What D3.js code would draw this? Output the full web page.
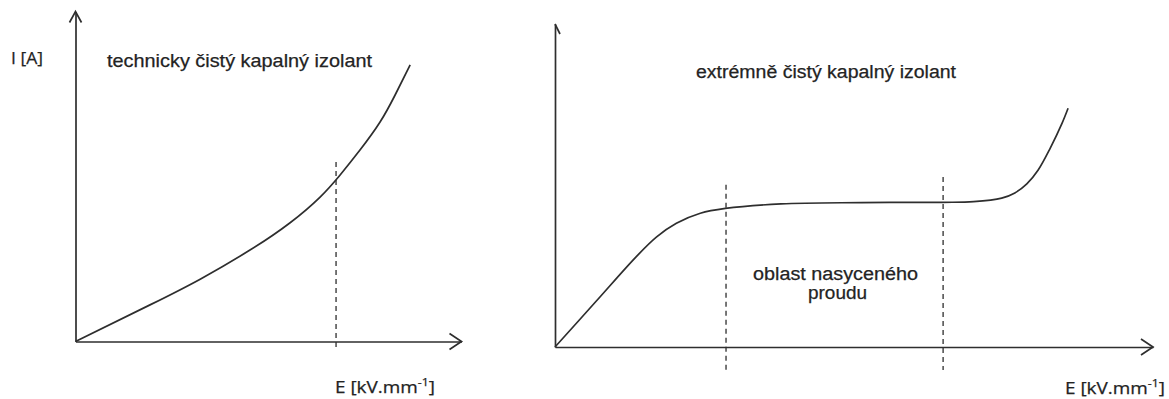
<!DOCTYPE html>
<html>
<head>
<meta charset="utf-8">
<script src="https://cdn.jsdelivr.net/npm/d3@7/dist/d3.min.js"></script>
<style>
  html, body { margin: 0; padding: 0; background: #fff; }
  svg { display: block; }
  text { fill: #232323; stroke: #232323; stroke-width: 0.25px; }
</style>
</head>
<body>
<svg id="chart" width="1169" height="399"></svg>
<script>
// Volt-ampere characteristic of a technically pure liquid insulator
const leftE = [0, 19.3, 32.3, 45.2, 55.6, 63.3, 68.5, 73.7, 78.9, 82.8, 86.7];
const leftI = [0, 11.1, 18.9, 27.7, 36.0, 43.7, 50.4, 58.0, 66.5, 74.7, 83.8];
const leftMarkE = [67.5];

// Volt-ampere characteristic of an extremely pure liquid insulator
const rightE = [0, 6.8, 13.6, 17.0, 20.3, 24.3, 28.5, 37.8, 51.2, 64.8, 70.0, 74.7, 76.9, 78.9, 80.8, 82.8, 84.8, 85.8];
const rightI = [0, 14.0, 28.0, 34.1, 38.3, 41.4, 42.9, 44.3, 44.7, 44.8, 45.0, 46.1, 47.7, 50.5, 54.8, 61.5, 69.3, 73.9];
const rightMarkE = [28.6, 64.9];
const rightMarkTop = [50.2, 52.6];

// Texts
const titles = ["technicky čistý kapalný izolant", "extrémně čistý kapalný izolant"];
const yLabel = "I [A]";
const xLabel = ["E [kV.mm", "-1", "]"];
const regionLabel = ["oblast nasyceného", "proudu"];

const svg = d3.select("#chart");
const ink = "#2e2e2e";

function drawPanel(cfg) {
  const g = svg.append("g");
  const x = d3.scaleLinear().domain([0, 100]).range(cfg.xRange);
  const y = d3.scaleLinear().domain([0, 100]).range(cfg.yRange);

  // axes without ticks
  g.append("g")
    .attr("transform", `translate(0,${y(0)})`)
    .call(d3.axisBottom(x).tickValues([]).tickSizeOuter(0));
  g.append("g")
    .attr("transform", `translate(${x(0)},0)`)
    .call(d3.axisLeft(y).tickValues([]).tickSizeOuter(0));
  g.selectAll(".domain").attr("stroke", ink).attr("stroke-width", 1.7);

  // arrow heads
  const xt = x(100), yt = y(0);
  g.append("path")
    .attr("d", `M${xt - 12},${yt - 8}L${xt},${yt}L${xt - 12},${yt + 8}`)
    .attr("fill", "none").attr("stroke", ink).attr("stroke-width", 1.7);
  const ux = x(0), uy = y(100);
  const yArrow = cfg.yArrowBoth
    ? `M${ux - 6},${uy + 11}L${ux},${uy}L${ux + 6},${uy + 11}`
    : `M${ux},${uy}L${ux + 5},${uy + 10}`;
  g.append("path").attr("d", yArrow)
    .attr("fill", "none").attr("stroke", ink).attr("stroke-width", 1.7);

  // dashed markers
  cfg.marks.forEach((e, i) => {
    g.append("line")
      .attr("x1", x(e)).attr("x2", x(e))
      .attr("y1", y(cfg.markTop[i])).attr("y2", y(cfg.markBottom))
      .attr("stroke", ink).attr("stroke-width", 1.3)
      .attr("stroke-dasharray", "5,4");
  });

  // characteristic curve
  const pts = cfg.E.map((e, i) => [e, cfg.I[i]]);
  g.append("path")
    .datum(pts)
    .attr("d", d3.line().x(d => x(d[0])).y(d => y(d[1])).curve(cfg.curve))
    .attr("fill", "none").attr("stroke", ink).attr("stroke-width", 1.7);

  return g;
}

const left = drawPanel({
  xRange: [75.5, 461.5], yRange: [341.5, 11.5],
  E: leftE, I: leftI, marks: leftMarkE, markTop: [54.4], markBottom: -2.6,
  yArrowBoth: true, curve: d3.curveNatural
});
const right = drawPanel({
  xRange: [555, 1153], yRange: [347, 24],
  E: rightE, I: rightI, marks: rightMarkE, markTop: rightMarkTop, markBottom: -7.1,
  yArrowBoth: false, curve: d3.curveCatmullRom.alpha(0.5)
});

function label(g, txt, xPos, yPos, len, size, family) {
  return g.append("text")
    .attr("x", xPos).attr("y", yPos)
    .attr("font-family", family).attr("font-size", size)
    .attr("textLength", len).attr("lengthAdjust", "spacingAndGlyphs")
    .text(txt);
}

const sans = "'Liberation Sans', Arial, sans-serif";
const soft = "'Open Sans', 'Liberation Sans', sans-serif";

label(left, titles[0], 107, 67, 265, 19, sans);
label(right, titles[1], 696, 78, 260, 18, sans);
label(right, regionLabel[0], 753, 280, 165, 18, sans);
label(right, regionLabel[1], 808, 299, 59, 18, sans);
label(left, yLabel, 11, 64, 32, 17, soft);

function unitLabel(g, xPos, yPos) {
  const t = g.append("text")
    .attr("x", xPos).attr("y", yPos)
    .attr("font-family", soft).attr("font-size", 17)
    .attr("textLength", 100).attr("lengthAdjust", "spacingAndGlyphs");
  t.append("tspan").text(xLabel[0]);
  t.append("tspan").attr("dy", -7).attr("font-size", 11).text(xLabel[1]);
  t.append("tspan").attr("dy", 7).text(xLabel[2]);
}
unitLabel(left, 335, 393);
unitLabel(right, 1065, 394);
</script>
</body>
</html>
